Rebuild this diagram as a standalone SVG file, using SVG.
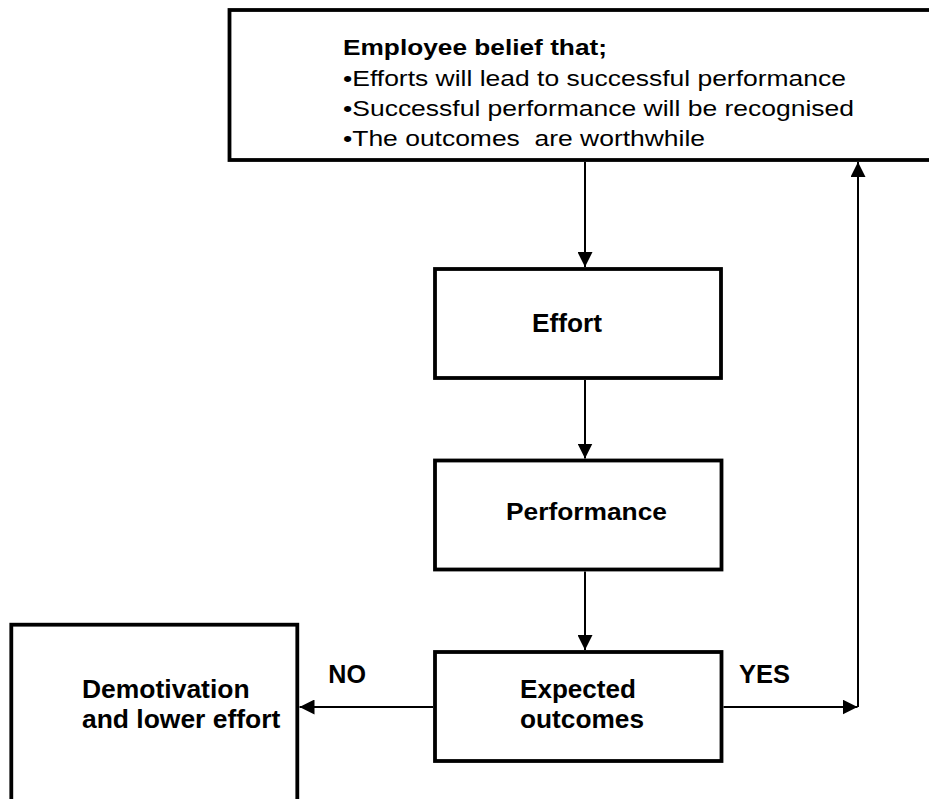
<svg xmlns="http://www.w3.org/2000/svg" width="929" height="799" viewBox="0 0 929 799">
  <style>
    .box { fill: #ffffff; stroke: #000000; stroke-width: 3.8; }
    .conn { fill: none; stroke: #000000; stroke-width: 2; }
    .lbl { font-family: "Liberation Sans", Arial, sans-serif; font-weight: bold; fill: #000000; }
    .body { font-family: "Liberation Sans", Arial, sans-serif; font-size: 22px; fill: #000000; }
  </style>
  <defs>
    <marker id="arrow" markerUnits="userSpaceOnUse" markerWidth="15" markerHeight="15" refX="15" refY="7.5" orient="auto">
      <path d="M0,0 L15,7.5 L0,15 Z" fill="#000000"/>
    </marker>
  </defs>

  <rect width="929" height="799" fill="#ffffff"/>

  <!-- belief statement -->
  <g id="belief">
    <rect class="box" x="229.5" y="10" width="710" height="150"/>
    <text class="body" x="343" y="55" font-weight="bold" textLength="264" lengthAdjust="spacingAndGlyphs">Employee belief that;</text>
    <text class="body" x="343" y="86" textLength="503" lengthAdjust="spacingAndGlyphs">•Efforts will lead to successful performance</text>
    <text class="body" x="343" y="116" textLength="511" lengthAdjust="spacingAndGlyphs">•Successful performance will be recognised</text>
    <text class="body" x="343" y="146" textLength="362" lengthAdjust="spacingAndGlyphs" xml:space="preserve">•The outcomes  are worthwhile</text>
  </g>

  <g id="effort">
    <rect class="box" x="435" y="269" width="286" height="109"/>
    <text class="lbl" x="532" y="331.5" font-size="26" textLength="70" lengthAdjust="spacingAndGlyphs">Effort</text>
  </g>

  <g id="performance">
    <rect class="box" x="435" y="460.5" width="286.5" height="109"/>
    <text class="lbl" x="506" y="520" font-size="24" textLength="161" lengthAdjust="spacingAndGlyphs">Performance</text>
  </g>

  <g id="expected">
    <rect class="box" x="435" y="652" width="286.5" height="109"/>
    <text class="lbl" x="520" y="698" font-size="25" textLength="116" lengthAdjust="spacingAndGlyphs">Expected</text>
    <text class="lbl" x="520" y="728" font-size="25" textLength="124" lengthAdjust="spacingAndGlyphs">outcomes</text>
  </g>

  <g id="demotivation">
    <rect class="box" x="11.3" y="624.7" width="286" height="190"/>
    <text class="lbl" x="82" y="698" font-size="25" textLength="167.6" lengthAdjust="spacingAndGlyphs">Demotivation</text>
    <text class="lbl" x="82" y="728" font-size="25" textLength="198.3" lengthAdjust="spacingAndGlyphs">and lower effort</text>
  </g>

  <!-- connectors -->
  <g id="connectors">
    <line class="conn" x1="585" y1="162" x2="585" y2="267" marker-end="url(#arrow)"/>
    <line class="conn" x1="585" y1="380" x2="585" y2="458.5" marker-end="url(#arrow)"/>
    <line class="conn" x1="585" y1="571.5" x2="585" y2="650" marker-end="url(#arrow)"/>
    <line class="conn" x1="433" y1="707" x2="299.5" y2="707" marker-end="url(#arrow)"/>
    <line class="conn" x1="723.5" y1="707" x2="857.5" y2="707" marker-end="url(#arrow)"/>
    <line class="conn" x1="858" y1="707" x2="858" y2="162" marker-end="url(#arrow)"/>
    <text class="lbl" x="328.3" y="683.3" font-size="25" textLength="37.7" lengthAdjust="spacingAndGlyphs">NO</text>
    <text class="lbl" x="739" y="683.3" font-size="25" textLength="51" lengthAdjust="spacingAndGlyphs">YES</text>
  </g>
</svg>
